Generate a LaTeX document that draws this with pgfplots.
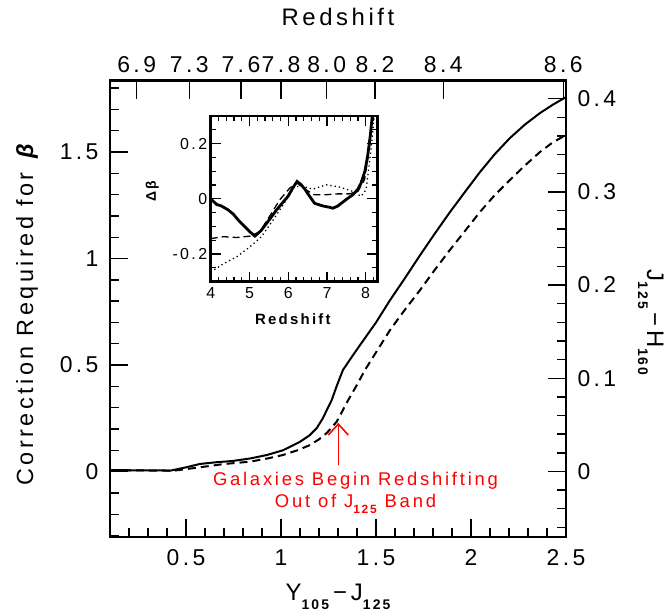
\documentclass[border=0pt]{standalone}
\usepackage{fontspec}
\setmainfont{Liberation Sans}[LetterSpace=15]
\usepackage{pgfplots}
\pgfplotsset{compat=1.18}
\usetikzlibrary{arrows.meta}
\newcommand{\subs}[3]{\raisebox{-#1}{\fontsize{#2}{#2}\selectfont\bfseries #3}}
\definecolor{annred}{RGB}{255,0,0}
\begin{document}
\begin{tikzpicture}
\pgfplotsset{
  common/.style={
    at={(0,0)}, anchor=south west,
    width=456bp, height=456.5bp, scale only axis,
    xmin=0.1, xmax=2.5,
    tick align=inside,
    major tick length=18bp, minor tick length=9bp,
    every tick/.style={black, line width=1.4bp},
    axis line style={line width=2.7bp},
    /pgf/number format/assume math mode=true,
    ticklabel style={font=\fontsize{23}{23}\selectfont},
    label style={font=\fontsize{24}{24}\selectfont},
  }
}
% main axis (left / bottom)
\begin{axis}[common,
  ymin=-0.307, ymax=1.836,
  xtick={0.5,1,1.5,2,2.5}, xticklabels={0.5,1,1.5,2,2.5},
  minor xtick={0.1,0.2,...,2.45},
  ytick={0,0.5,1,1.5}, yticklabels={0,0.5,1,1.5},
  minor ytick={-0.3,-0.2,...,1.85},
  xtick pos=left, ytick pos=left,
  xticklabel style={yshift=-9bp},
  yticklabel style={xshift=-8bp},
  xlabel={Y\subs{9bp}{14}{105}\,−\,J\subs{9bp}{14}{125}},
  xlabel style={at={(axis description cs:0.5,-0.131)}, anchor=center},
  ylabel={Correction Required for \textbf{\textit{β}}},
  ylabel style={font=\fontsize{23.5}{23.5}\selectfont, at={(axis description cs:-0.182,0.49)}, anchor=center},
]
\addplot[black, line width=2bp] table {
0.100 0.007
0.250 0.006
0.420 0.005
0.500 0.020
0.574 0.036
0.660 0.044
0.747 0.050
0.840 0.062
0.926 0.078
1.010 0.100
1.100 0.140
1.150 0.170
1.188 0.204
1.220 0.250
1.241 0.289
1.267 0.336
1.295 0.406
1.326 0.477
1.370 0.535
1.416 0.594
1.500 0.700
1.574 0.805
1.650 0.905
1.732 1.016
1.810 1.118
1.889 1.218
1.970 1.315
2.047 1.406
2.125 1.490
2.205 1.566
2.285 1.630
2.363 1.683
2.430 1.722
2.500 1.758
};
\draw[annred, line width=1.6bp, -{Straight Barb[length=11bp,width=20bp,line width=1.6bp]}]
  (axis cs:1.3016,0.0305) -- (axis cs:1.3016,0.229);
\node[annred, align=center, font=\fontsize{18.5}{21.5}\selectfont, inner sep=0pt]
  at (axis cs:1.392,-0.100) {Galaxies Begin Redshifting\\Out of J\subs{6bp}{12}{125} Band};
\end{axis}
% right axis
\begin{axis}[common,
  ymin=-0.0703, ymax=0.4195,
  hide x axis,
  ytick={0,0.1,0.2,0.3,0.4}, yticklabels={0,0.1,0.2,0.3,0.4},
  minor ytick={-0.06,-0.04,...,0.41},
  ytick pos=right, yticklabel pos=right,
  yticklabel style={xshift=8bp},
  ylabel={J\subs{9bp}{14}{125}\,−\,H\subs{9bp}{14}{160}},
  ylabel style={at={(axis description cs:1.186,0.47)}, anchor=center, rotate=180},
]
\addplot[black, line width=2bp, dash pattern=on 8bp off 5bp] table {
0.100 0.0016
0.300 0.0010
0.442 0.0010
0.574 0.0045
0.700 0.0080
0.837 0.0105
0.930 0.0140
1.011 0.0177
1.090 0.0230
1.153 0.0284
1.200 0.0345
1.241 0.0413
1.293 0.0534
1.354 0.0767
1.400 0.0930
1.442 0.1089
1.510 0.1310
1.574 0.1518
1.650 0.1730
1.732 0.1947
1.810 0.2165
1.889 0.2377
1.970 0.2585
2.047 0.2784
2.125 0.2965
2.205 0.3128
2.285 0.3285
2.363 0.3428
2.430 0.3530
2.500 0.3611
};
\end{axis}
% top axis (redshift)
\begin{axis}[common,
  ymin=0, ymax=1,
  hide y axis,
  xtick={0.2405,0.517,0.789,1.0,1.2405,1.495,1.854,2.486},
  xticklabels={6.9,7.3,7.6,7.8,8.0,8.2,8.4,8.6},
  major tick length=19bp,
  xtick pos=right, xticklabel pos=right,
  xticklabel style={yshift=4bp},
  xlabel={Redshift},
  xlabel style={at={(axis description cs:0.5,1.14)}, anchor=center},
]
\end{axis}
% inset
\begin{axis}[
  at={(100.7bp,255.3bp)}, anchor=south west,
  width=166.6bp, height=165.7bp, scale only axis,
  xmin=4, xmax=8.3, ymin=-0.3, ymax=0.3,
  axis background/.style={fill=white},
  tick align=inside,
  major tick length=10bp, minor tick length=5bp,
  every tick/.style={black, line width=1.2bp},
  axis line style={line width=2.6bp},
  xtick={4,5,6,7,8}, xticklabels={4,5,6,7,8},
  minor xtick={4.2,4.4,...,8.25},
  ytick={-0.2,0,0.2}, yticklabels={-0.2,0,0.2},
  minor ytick={-0.25,-0.15,-0.1,-0.05,0.05,0.1,0.15,0.25},
  /pgf/number format/assume math mode=true,
  ticklabel style={font=\fontsize{16}{16}\selectfont},
  xticklabel style={yshift=-2bp},
  xlabel={\textbf{Redshift}},
  xlabel style={font=\fontsize{15}{15}\selectfont, at={(axis description cs:0.5,-0.225)}, anchor=center},
  ylabel={\textbf{Δβ}},
  ylabel style={font=\fontsize{14}{14}\selectfont, at={(axis description cs:-0.35,0.55)}, anchor=center},
]
\addplot[black, line width=2.8bp] table {
4.00 0.000
4.15 -0.020
4.28 -0.026
4.45 -0.040
4.58 -0.055
4.72 -0.078
4.84 -0.095
5.00 -0.118
5.14 -0.135
5.30 -0.115
5.44 -0.089
5.58 -0.063
5.70 -0.040
5.85 -0.015
6.00 0.010
6.12 0.040
6.23 0.063
6.33 0.052
6.43 0.035
6.55 0.010
6.68 -0.016
6.90 -0.026
7.05 -0.030
7.15 -0.034
7.28 -0.026
7.37 -0.016
7.52 0.000
7.67 0.015
7.80 0.035
7.88 0.057
7.98 0.100
8.05 0.154
8.12 0.230
8.17 0.300
};
\addplot[black, line width=1.3bp, dash pattern=on 7bp off 4bp] table {
4.00 -0.144
4.33 -0.137
4.67 -0.140
5.01 -0.135
5.27 -0.119
5.42 -0.085
5.57 -0.052
5.78 -0.004
6.04 0.039
6.23 0.057
6.43 0.035
6.68 0.015
6.98 0.015
7.28 0.018
7.58 0.018
7.80 0.027
7.97 0.069
8.10 0.190
8.16 0.300
};
\addplot[black, line width=1.3bp, dash pattern=on 1.3bp off 3bp] table {
4.00 -0.265
4.33 -0.235
4.67 -0.210
5.01 -0.174
5.31 -0.137
5.61 -0.077
5.95 -0.004
6.17 0.045
6.38 0.045
6.64 0.035
6.98 0.051
7.32 0.043
7.67 0.027
7.88 0.009
8.01 0.033
8.14 0.180
8.22 0.300
};
\end{axis}
\pgfresetboundingbox
\path (-110bp,-76bp) rectangle (555bp,537bp);
\end{tikzpicture}
\end{document}
